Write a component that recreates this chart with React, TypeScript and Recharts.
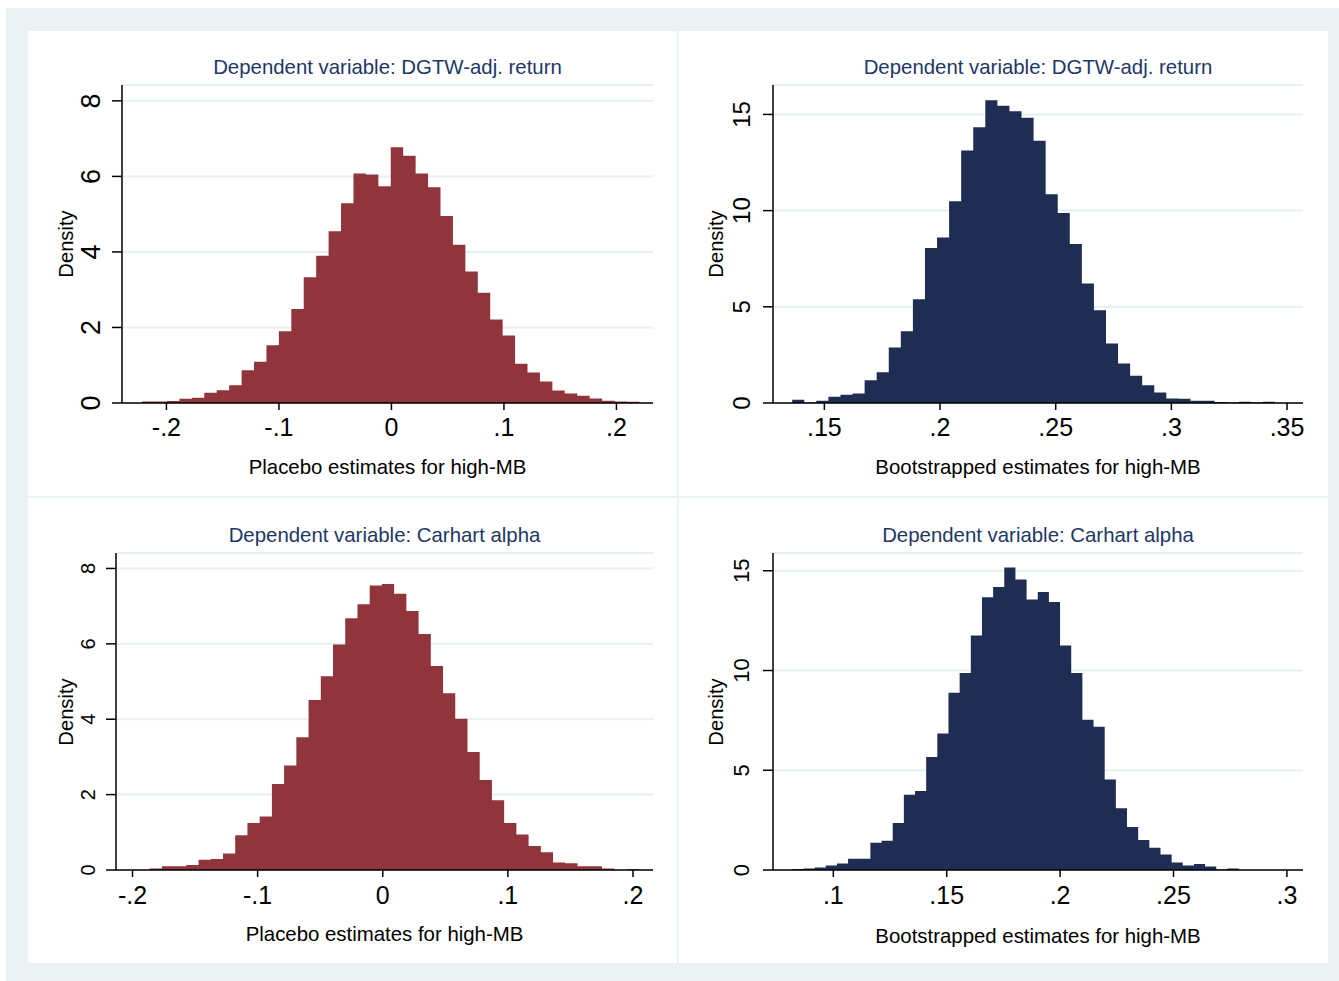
import { AreaChart, Area, XAxis, YAxis, CartesianGrid } from "recharts";

// histogram bins: first bin edge, bin width, density per bin
const DGTW_PLACEBO_START = -0.2216;
const DGTW_PLACEBO_WIDTH = 0.01105;
const DGTW_PLACEBO = [
  0.04, 0.04, 0.05, 0.11, 0.14, 0.27, 0.34, 0.47, 0.87, 1.09,
  1.53, 1.9, 2.49, 3.33, 3.9, 4.55, 5.29, 6.08, 6.05, 5.74,
  6.77, 6.55, 6.08, 5.71, 4.95, 4.19, 3.48, 2.92, 2.21, 1.79,
  1.04, 0.81, 0.57, 0.33, 0.25, 0.19, 0.12, 0.06, 0.04, 0.03,
];

const DGTW_BOOT_START = 0.1361;
const DGTW_BOOT_WIDTH = 0.005217;
const DGTW_BOOT = [
  0.17, 0.03, 0.12, 0.33, 0.43, 0.5, 1.18, 1.6, 2.88, 3.73,
  5.39, 8.06, 8.6, 10.49, 13.13, 14.34, 15.74, 15.45, 15.17, 14.83,
  13.63, 10.85, 9.87, 8.27, 6.21, 4.82, 3.09, 2.05, 1.42, 0.92,
  0.54, 0.23, 0.22, 0.12, 0.12, 0.05, 0.02, 0.07, 0.02, 0.07,
];

const CARHART_PLACEBO_START = -0.1863;
const CARHART_PLACEBO_WIDTH = 0.00977;
const CARHART_PLACEBO = [
  0.04, 0.1, 0.1, 0.13, 0.27, 0.29, 0.44, 0.92, 1.25, 1.42,
  2.28, 2.77, 3.52, 4.51, 5.14, 5.98, 6.68, 7.05, 7.55, 7.59,
  7.33, 6.87, 6.26, 5.41, 4.69, 4.01, 3.13, 2.39, 1.85, 1.25,
  0.94, 0.64, 0.47, 0.2, 0.18, 0.1, 0.1, 0.04, 0, 0.02,
];

const CARHART_BOOT_START = 0.0819;
const CARHART_BOOT_WIDTH = 0.00492;
const CARHART_BOOT = [
  0.05, 0.07, 0.12, 0.23, 0.32, 0.57, 0.57, 1.37, 1.47, 2.35,
  3.77, 3.96, 5.66, 6.84, 8.88, 9.88, 11.75, 13.67, 14.19, 15.16,
  14.56, 13.56, 13.94, 13.44, 11.25, 9.88, 7.53, 7.18, 4.54, 3.09,
  2.15, 1.5, 1.12, 0.78, 0.38, 0.22, 0.3, 0.18, 0.03, 0.08,
];

const PLACEBO_X_TICKS = [-0.2, -0.1, 0, 0.1, 0.2];
const DGTW_BOOT_X_TICKS = [0.15, 0.2, 0.25, 0.3, 0.35];
const CARHART_BOOT_X_TICKS = [0.1, 0.15, 0.2, 0.25, 0.3];
const PLACEBO_Y_TICKS = [0, 2, 4, 6, 8];
const BOOT_Y_TICKS = [0, 5, 10, 15];

const TITLE_DGTW = "Dependent variable: DGTW-adj. return";
const TITLE_CARHART = "Dependent variable: Carhart alpha";
const XLABEL_PLACEBO = "Placebo estimates for high-MB";
const XLABEL_BOOT = "Bootstrapped estimates for high-MB";

const MAROON = "#8f353b";
const NAVY = "#1f2d53";
const GRID = "#e7eff1";
const FONT = "'Liberation Sans', Arial, Helvetica, sans-serif";

function toSteps(start: number, width: number, dens: number[]) {
  const pts = dens.map((d, i) => ({ x: start + i * width, density: d }));
  pts.push({ x: start + dens.length * width, density: dens[dens.length - 1] });
  return pts;
}

// Stata-style labels: ".1", "-.2", "0"
const fmt = (v: number) => (v === 0 ? "0" : String(v).replace("0.", "."));

type PanelProps = {
  left: number;
  top: number;
  title: string;
  xLabel: string;
  data: { x: number; density: number }[];
  color: string;
  xDomain: [number, number];
  yDomain: [number, number];
  xTicks: number[];
  yTicks: number[];
  plot: { left: number; right: number; top: number; bottom: number };
  yLabelX: number;
  yLabelSize: number;
  xLabelY: number;
  titleY: number;
  axisTitleY: number;
};

const W = 650;
const H = 466;

function Panel(p: PanelProps) {
  const plotCx = (p.plot.left + W - p.plot.right) / 2;
  const plotBottom = H - p.plot.bottom;
  return (
    <div style={{ position: "absolute", left: p.left, top: p.top, width: W, height: H }}>
      <AreaChart
        width={W}
        height={H}
        data={p.data}
        margin={{ top: p.plot.top, right: p.plot.right, bottom: 0, left: 0 }}
      >
        <CartesianGrid horizontal vertical={false} stroke={GRID} strokeWidth={2} />
        <XAxis
          dataKey="x"
          type="number"
          domain={p.xDomain}
          allowDataOverflow
          ticks={p.xTicks}
          interval={0}
          height={p.plot.bottom}
          tickSize={7}
          axisLine={{ stroke: "#000", strokeWidth: 1.5 }}
          tickLine={{ stroke: "#000", strokeWidth: 1.5 }}
          tick={(t: any) => (
            <text
              x={t.x}
              y={plotBottom + p.xLabelY}
              textAnchor="middle"
              dy="0.36em"
              fontSize={25}
              fill="#000"
            >
              {fmt(t.payload.value)}
            </text>
          )}
        />
        <YAxis
          type="number"
          domain={p.yDomain}
          allowDataOverflow
          ticks={p.yTicks}
          interval={0}
          width={p.plot.left}
          tickSize={10}
          axisLine={{ stroke: "#000", strokeWidth: 1.5 }}
          tickLine={{ stroke: "#000", strokeWidth: 1.5 }}
          tick={(t: any) => (
            <g transform={`translate(${p.yLabelX},${t.y}) rotate(-90)`}>
              <text textAnchor="middle" dy="0.36em" fontSize={p.yLabelSize} fill="#000">
                {t.payload.value}
              </text>
            </g>
          )}
        />
        <Area
          type="stepAfter"
          dataKey="density"
          fill={p.color}
          fillOpacity={1}
          stroke="none"
          dot={false}
          activeDot={false}
          isAnimationActive={false}
        />
      </AreaChart>
      <div
        style={{
          position: "absolute",
          left: plotCx,
          top: p.titleY,
          transform: "translate(-50%, -50%)",
          whiteSpace: "nowrap",
          fontSize: 20.4,
          lineHeight: 1,
          color: "#1d3766",
        }}
      >
        {p.title}
      </div>
      <div
        style={{
          position: "absolute",
          left: plotCx,
          top: p.axisTitleY,
          transform: "translate(-50%, -50%)",
          whiteSpace: "nowrap",
          fontSize: 20.4,
          lineHeight: 1,
          color: "#000",
        }}
      >
        {p.xLabel}
      </div>
      <div
        style={{
          position: "absolute",
          left: 38,
          top: (p.plot.top + plotBottom) / 2,
          transform: "translate(-50%, -50%) rotate(-90deg)",
          whiteSpace: "nowrap",
          fontSize: 20.2,
          lineHeight: 1,
          color: "#000",
        }}
      >
        Density
      </div>
    </div>
  );
}

export default function App() {
  return (
    <div
      style={{
        position: "absolute",
        left: 0,
        top: 0,
        width: 1339,
        height: 981,
        background: "#fff",
        fontFamily: FONT,
      }}
    >
      <div style={{ position: "absolute", left: 6, top: 8, right: 0, bottom: 0, background: "#eaf2f3" }} />
      <div style={{ position: "absolute", left: 28, top: 31, width: 1300, height: 932, background: "#fff" }} />
      <div style={{ position: "absolute", left: 677, top: 31, width: 2, height: 932, background: "#eaf2f3" }} />
      <div style={{ position: "absolute", left: 28, top: 496, width: 1300, height: 2, background: "#eaf2f3" }} />

      <Panel
        left={28}
        top={31}
        title={TITLE_DGTW}
        xLabel={XLABEL_PLACEBO}
        data={toSteps(DGTW_PLACEBO_START, DGTW_PLACEBO_WIDTH, DGTW_PLACEBO)}
        color={MAROON}
        xDomain={[-0.2395, 0.2325]}
        yDomain={[0, 8.42]}
        xTicks={PLACEBO_X_TICKS}
        yTicks={PLACEBO_Y_TICKS}
        plot={{ left: 94, right: 25, top: 54, bottom: 94 }}
        yLabelX={62}
        yLabelSize={27}
        xLabelY={24}
        titleY={36}
        axisTitleY={436}
      />
      <Panel
        left={678}
        top={31}
        title={TITLE_DGTW}
        xLabel={XLABEL_BOOT}
        data={toSteps(DGTW_BOOT_START, DGTW_BOOT_WIDTH, DGTW_BOOT)}
        color={NAVY}
        xDomain={[0.1278, 0.3569]}
        yDomain={[0, 16.53]}
        xTicks={DGTW_BOOT_X_TICKS}
        yTicks={BOOT_Y_TICKS}
        plot={{ left: 95, right: 25, top: 54, bottom: 94 }}
        yLabelX={63.7}
        yLabelSize={24}
        xLabelY={24}
        titleY={36}
        axisTitleY={436}
      />
      <Panel
        left={28}
        top={497}
        title={TITLE_CARHART}
        xLabel={XLABEL_PLACEBO}
        data={toSteps(CARHART_PLACEBO_START, CARHART_PLACEBO_WIDTH, CARHART_PLACEBO)}
        color={MAROON}
        xDomain={[-0.2132, 0.216]}
        yDomain={[0, 8.41]}
        xTicks={PLACEBO_X_TICKS}
        yTicks={PLACEBO_Y_TICKS}
        plot={{ left: 88, right: 25, top: 56, bottom: 93 }}
        yLabelX={59.3}
        yLabelSize={20}
        xLabelY={25}
        titleY={38}
        axisTitleY={437}
      />
      <Panel
        left={678}
        top={497}
        title={TITLE_CARHART}
        xLabel={XLABEL_BOOT}
        data={toSteps(CARHART_BOOT_START, CARHART_BOOT_WIDTH, CARHART_BOOT)}
        color={NAVY}
        xDomain={[0.0734, 0.3071]}
        yDomain={[0, 15.89]}
        xTicks={CARHART_BOOT_X_TICKS}
        yTicks={BOOT_Y_TICKS}
        plot={{ left: 95, right: 25, top: 56, bottom: 93 }}
        yLabelX={62.7}
        yLabelSize={22}
        xLabelY={25}
        titleY={38}
        axisTitleY={439}
      />
    </div>
  );
}
